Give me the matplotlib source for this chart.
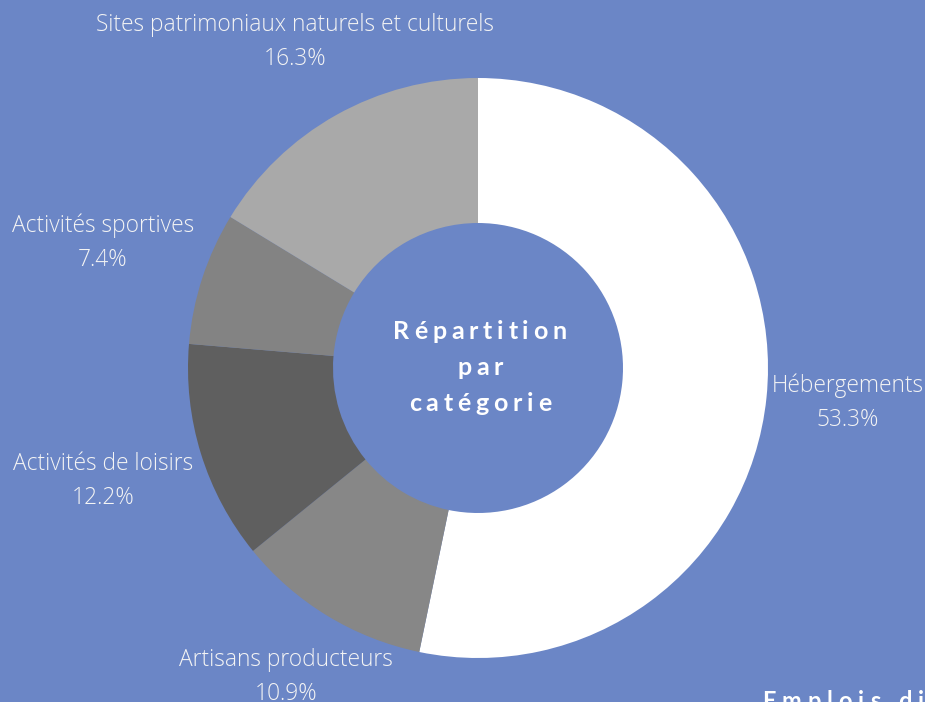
import numpy as np
import matplotlib
matplotlib.use("Agg")
import matplotlib.pyplot as plt
from matplotlib.font_manager import FontProperties

# data
categories = ["Hébergements", "Artisans producteurs", "Activités de loisirs",
              "Activités sportives", "Sites patrimoniaux naturels et culturels"]
shares = [53.3, 10.9, 12.2, 7.4, 16.3]
colors = ["#ffffff", "#878787", "#5f5f5f", "#838383", "#a9a9a9"]

# label layout (pixel coords of block centre, y from top)
label_pos = [(848, 403), (286, 677), (103, 481), (103, 243), (295, 42)]

BG = "#6b86c6"
W, H = 925, 702

fig = plt.figure(figsize=(W / 100, H / 100), dpi=100, facecolor=BG)
ax = fig.add_axes([0, 0, 1, 1])

cx, cy, R = 478, H - 368, 290
ax.pie(shares, colors=colors, startangle=90, counterclock=False,
       center=(cx, cy), radius=R, frame=True,
       wedgeprops=dict(width=R * 0.5, linewidth=0))
ax.set_xlim(0, W)
ax.set_ylim(0, H)
ax.set_aspect("equal")
ax.axis("off")

for name, v, (x, y) in zip(categories, shares, label_pos):
    ax.text(x, H - y, name + "\n" + f"{v:.1f}%", ha="center", va="center",
            fontsize=16.4, color="#f4f4f4", family="Open Sans", fontweight="light",
            linespacing=1.58)

renderer = fig.canvas.get_renderer()


def spaced(x, y, s, prop, spacing, color="white", ha="center"):
    # draw text char by char to get the letter spacing
    widths = []
    for ch in s:
        w, h, d = renderer.get_text_width_height_descent(ch, prop, ismath=False)
        if ch == " ":
            w = renderer.get_text_width_height_descent("a a", prop, ismath=False)[0] - \
                renderer.get_text_width_height_descent("aa", prop, ismath=False)[0]
        widths.append(w)
    total = sum(widths) + spacing * (len(s) - 1)
    x0 = x - total / 2 if ha == "center" else x
    for ch, w in zip(s, widths):
        ax.text(x0, y, ch, fontproperties=prop, color=color, ha="left", va="baseline")
        x0 += w + spacing


pc = FontProperties(family="Lato", weight="bold", size=18)
for i, line in enumerate(["Répartition", "par", "catégorie"]):
    spaced(cx + 2, H - (339 + 36 * i), line, pc, 4.8)

pe = FontProperties(family="Lato", weight="bold", size=17)
spaced(762, H - 709, "Emplois directs", pe, 6, ha="left")

fig.savefig("out.png", dpi=100, facecolor=BG)
